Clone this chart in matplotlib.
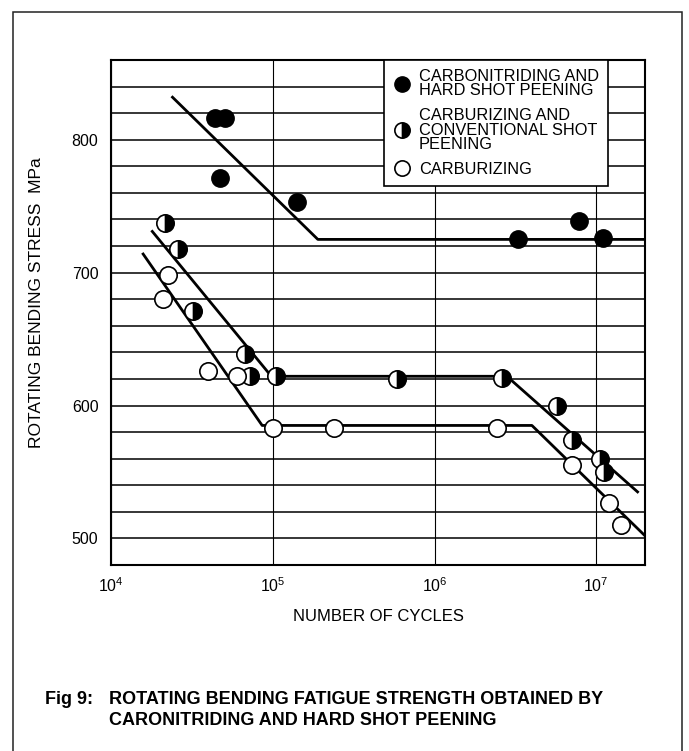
import numpy as np
import matplotlib
matplotlib.use("Agg")
import matplotlib.pyplot as plt
from matplotlib.lines import Line2D
from matplotlib.patches import Rectangle
from matplotlib.ticker import FixedLocator, LogLocator, NullLocator

plt.rcParams['font.family'] = ['Liberation Sans', 'DejaVu Sans']
plt.rcParams['mathtext.fontset'] = 'custom'
plt.rcParams['mathtext.rm'] = 'Liberation Sans'

# carbonitriding + hard shot peening (filled)
cn_cycles = [4.4e4, 5.1e4, 4.7e4, 1.41e5, 3.3e6, 7.85e6, 1.1e7]
cn_stress = [816, 816, 771, 753, 725, 739, 726]
cn_fit_cycles = [2.4e4, 1.9e5, 2e7]
cn_fit_stress = [832, 725, 725]

# carburizing + conventional shot peening (half filled)
cs_cycles = [2.15e4, 2.6e4, 3.2e4, 6.7e4, 7.2e4, 1.05e5, 5.9e5, 2.6e6, 5.75e6, 7.1e6, 1.05e7, 1.12e7]
cs_stress = [737, 718, 671, 639, 622, 622, 620, 621, 600, 574, 560, 550]
cs_fit_cycles = [1.8e4, 9.8e4, 2.8e6, 1.8e7]
cs_fit_stress = [731, 622, 622, 535]

# carburizing (open)
c_cycles = [2.25e4, 2.1e4, 4.0e4, 6.0e4, 1.0e5, 2.4e5, 2.45e6, 7.1e6, 1.2e7, 1.43e7]
c_stress = [698, 680, 626, 622, 583, 583, 583, 555, 527, 510]
c_fit_cycles = [1.58e4, 8.6e4, 4.0e6, 2e7]
c_fit_stress = [714, 585, 585, 502]

y_labels = [500, 600, 700, 800]

fig = plt.figure(figsize=(6.89, 7.51), dpi=100)
ax = fig.add_axes([0.1611, 0.2477, 0.775, 0.6724])

ax.set_xscale('log')
ax.set_xlim(1e4, 2e7)
ax.set_ylim(480, 860)

ax.xaxis.set_major_locator(LogLocator(base=10, numticks=10))
ax.xaxis.set_minor_locator(NullLocator())
ax.yaxis.set_major_locator(FixedLocator(y_labels))
ax.yaxis.set_minor_locator(FixedLocator(np.arange(480, 861, 20)))
ax.tick_params(which='both', length=0)
ax.tick_params(axis='y', pad=9, labelsize=11.5)
ax.tick_params(axis='x', pad=8, labelsize=11.5)

ax.grid(True, axis='y', which='both', color='black', lw=1.1)
ax.grid(True, axis='x', which='major', color='black', lw=0.8)
ax.set_axisbelow(True)
for s in ax.spines.values():
    s.set_linewidth(1.5)

ms = 12.5
ax.plot(cn_fit_cycles, cn_fit_stress, color='black', lw=2, zorder=3)
ax.plot(cs_fit_cycles, cs_fit_stress, color='black', lw=2, zorder=3)
ax.plot(c_fit_cycles, c_fit_stress, color='black', lw=2, zorder=3)

ax.plot(cn_cycles, cn_stress, 'o', ms=ms, mfc='black', mec='black', zorder=4)
ax.plot(cs_cycles, cs_stress, 'o', ms=ms, fillstyle='right', mfc='black',
        mfcalt='white', mec='black', mew=1.2, zorder=4)
ax.plot(c_cycles, c_stress, 'o', ms=ms, mfc='white', mec='black', mew=1.2, zorder=4)

handles = [
    Line2D([], [], ls='none', marker='o', ms=11, mfc='black', mec='black'),
    Line2D([], [], ls='none', marker='o', ms=11, fillstyle='right', mfc='black',
           mfcalt='white', mec='black', mew=1.2),
    Line2D([], [], ls='none', marker='o', ms=11, mfc='white', mec='black', mew=1.2),
]
labels = ['CARBONITRIDING AND\nHARD SHOT PEENING',
          'CARBURIZING AND\nCONVENTIONAL SHOT\nPEENING',
          'CARBURIZING']
leg = ax.legend(handles, labels, loc='upper left', bbox_to_anchor=(0.511, 1.0),
                borderaxespad=0, fancybox=False, framealpha=1, edgecolor='black',
                fontsize=11.8, handletextpad=0.5, labelspacing=0.6, borderpad=0.55,
                handlelength=1.1)
leg.get_frame().set_linewidth(1.2)
for t in leg.get_texts():
    t.set_linespacing(0.95)

ax.set_ylabel('ROTATING BENDING STRESS  MPa', fontsize=12.5)
ax.yaxis.set_label_coords(-0.125, 0.52)
ax.set_xlabel('NUMBER OF CYCLES', fontsize=12, labelpad=10)

fig.text(0.066, 0.068, 'Fig 9:', fontsize=13, fontweight='bold', va='center')
fig.text(0.158, 0.068, 'ROTATING BENDING FATIGUE STRENGTH OBTAINED BY',
         fontsize=13, fontweight='bold', va='center')
fig.text(0.158, 0.040, 'CARONITRIDING AND HARD SHOT PEENING',
         fontsize=13, fontweight='bold', va='center')

fig.add_artist(Rectangle((13 / 689, -0.02), 669 / 689, 1 - 12 / 751 + 0.02,
                         transform=fig.transFigure, fill=False, ec='#222222', lw=1.1))

fig.savefig('out.png', dpi=100)
